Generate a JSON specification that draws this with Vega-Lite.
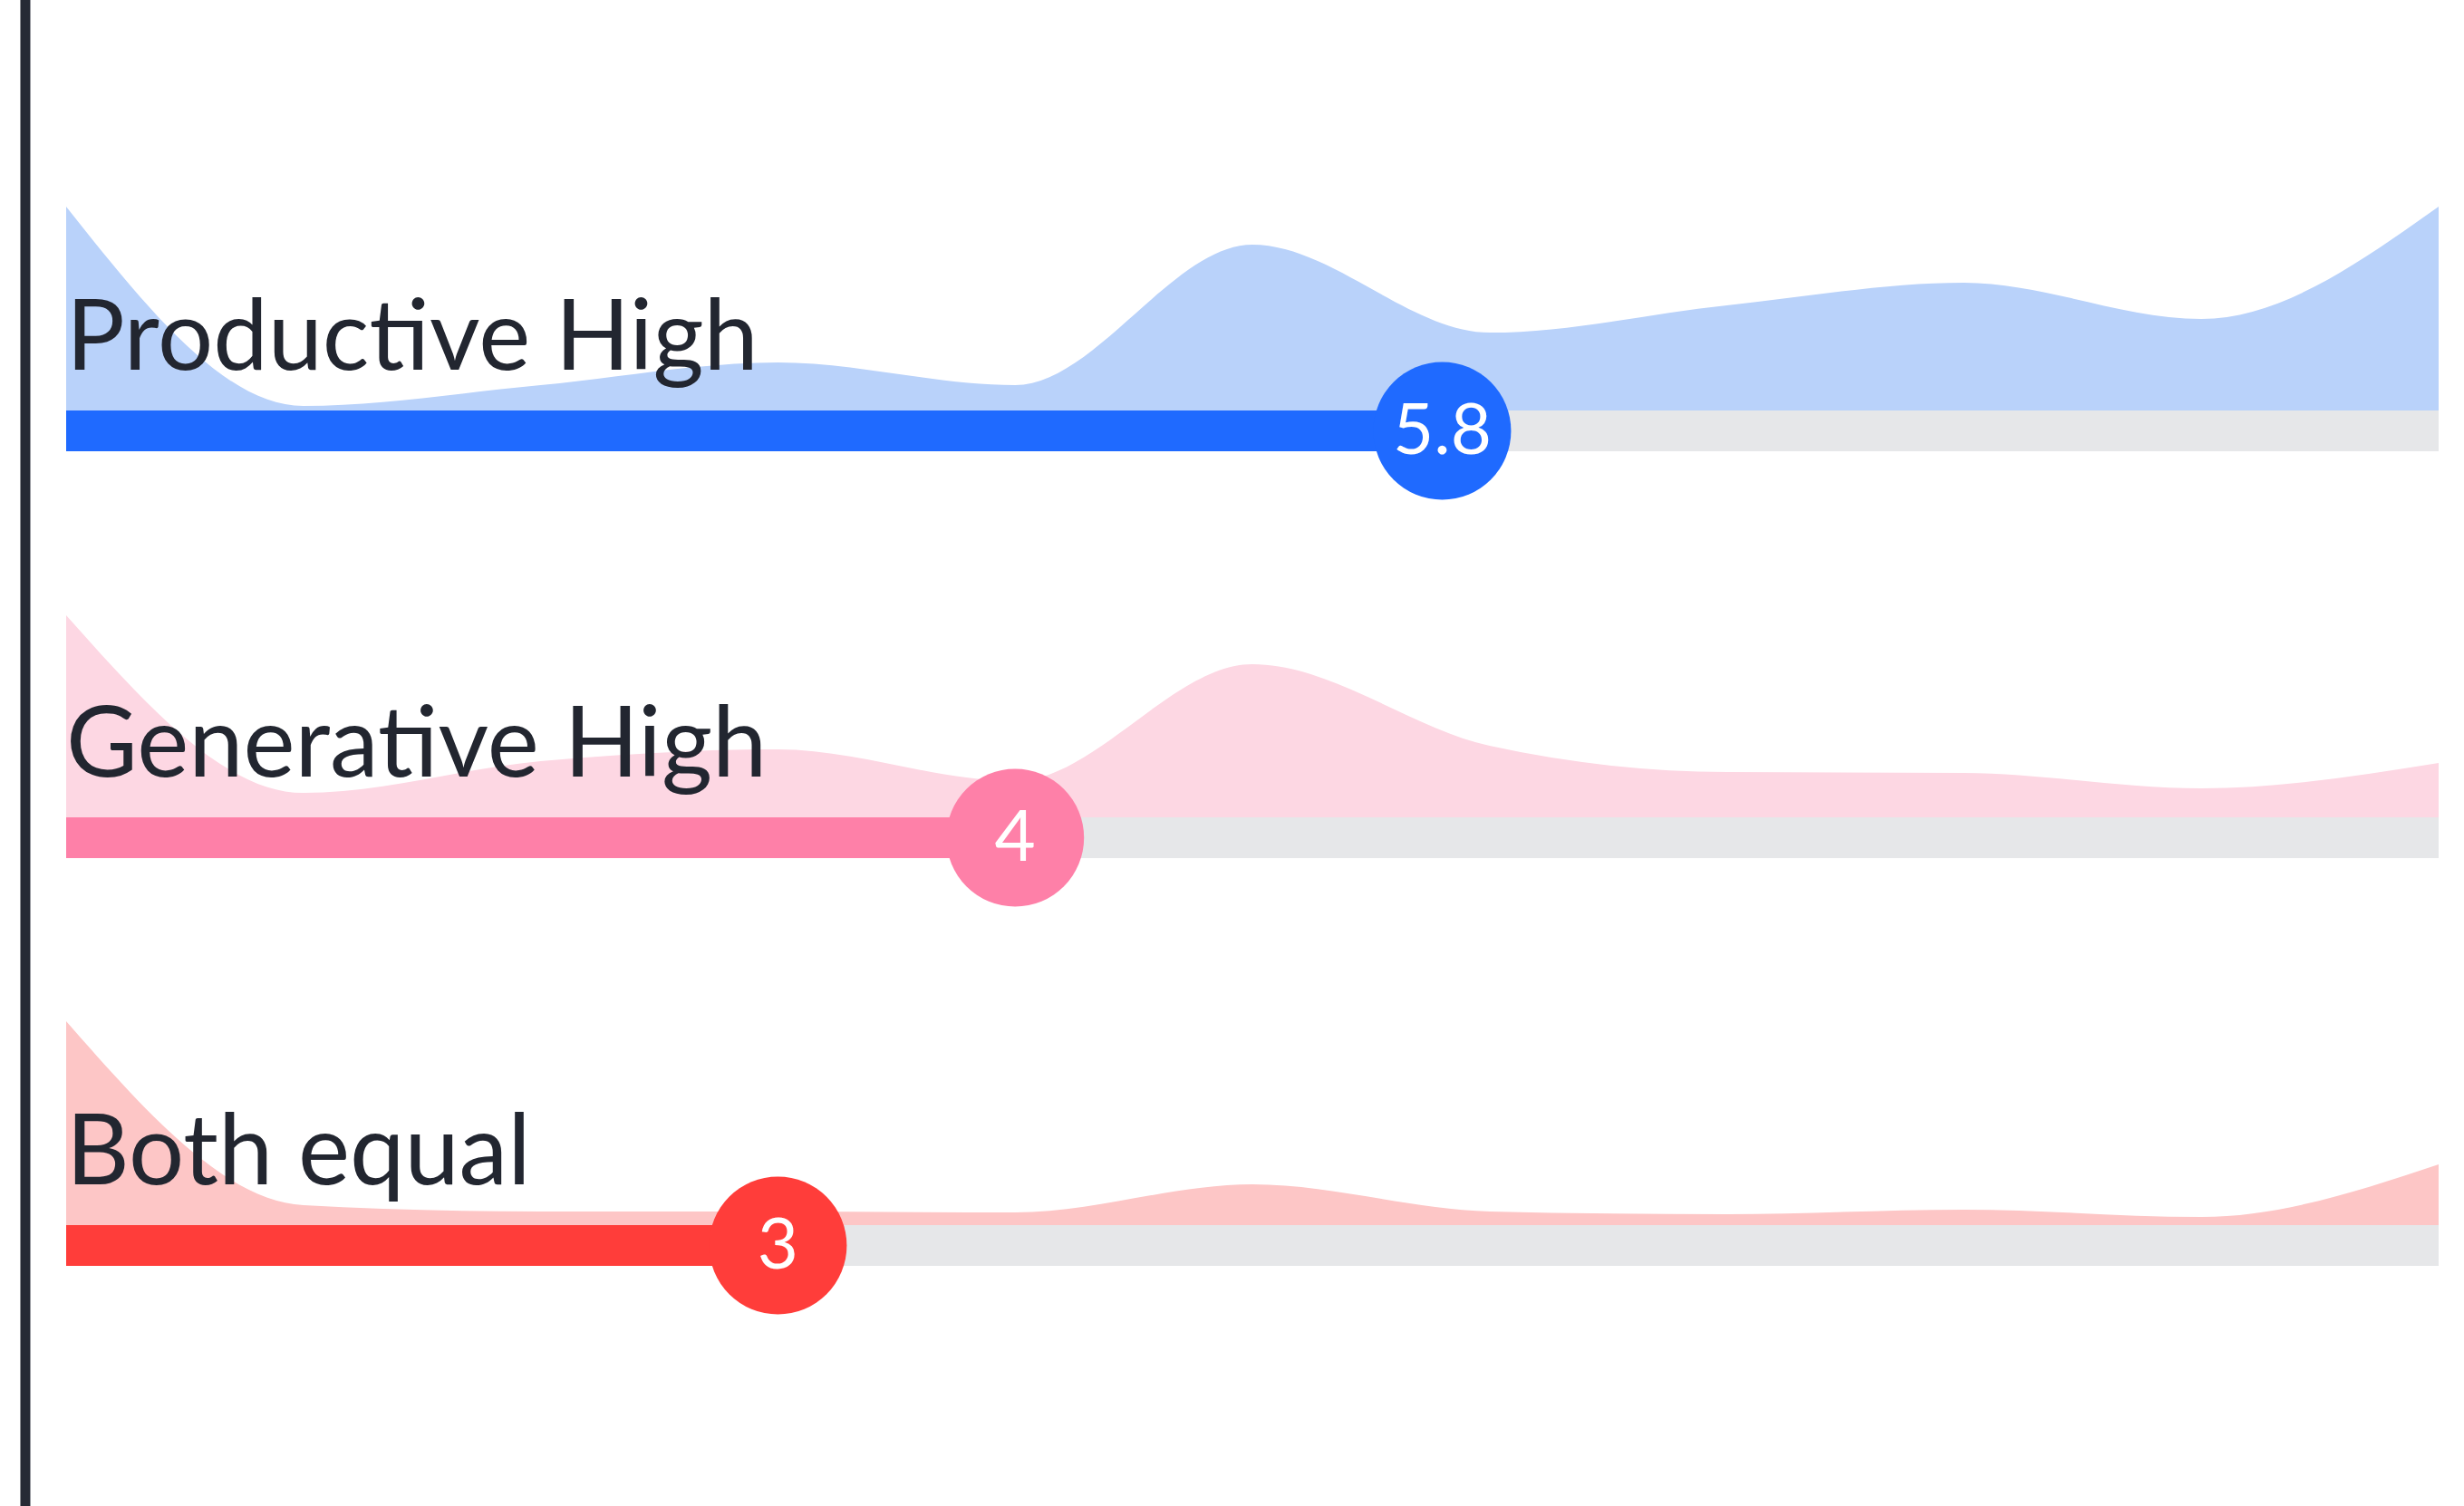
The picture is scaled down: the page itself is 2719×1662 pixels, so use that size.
{
  "$schema": "https://vega.github.io/schema/vega-lite/v6.json",
  "width": 2719,
  "height": 1662,
  "padding": 0,
  "autosize": {"type": "none"},
  "background": "#ffffff",
  "config": {"view": {"stroke": null}},
  "datasets": {
    "density": [
      {"group": "Productive High", "score": 0, "density": 1.0},
      {"group": "Productive High", "score": 1, "density": 0.022},
      {"group": "Productive High", "score": 2, "density": 0.124},
      {"group": "Productive High", "score": 3, "density": 0.236},
      {"group": "Productive High", "score": 4, "density": 0.124},
      {"group": "Productive High", "score": 5, "density": 0.813},
      {"group": "Productive High", "score": 6, "density": 0.382},
      {"group": "Productive High", "score": 7, "density": 0.516},
      {"group": "Productive High", "score": 8, "density": 0.627},
      {"group": "Productive High", "score": 9, "density": 0.449},
      {"group": "Productive High", "score": 10, "density": 1.0},
      {"group": "Generative High", "score": 0, "density": 0.991},
      {"group": "Generative High", "score": 1, "density": 0.12},
      {"group": "Generative High", "score": 2, "density": 0.276},
      {"group": "Generative High", "score": 3, "density": 0.333},
      {"group": "Generative High", "score": 4, "density": 0.178},
      {"group": "Generative High", "score": 5, "density": 0.751},
      {"group": "Generative High", "score": 6, "density": 0.351},
      {"group": "Generative High", "score": 7, "density": 0.222},
      {"group": "Generative High", "score": 8, "density": 0.218},
      {"group": "Generative High", "score": 9, "density": 0.142},
      {"group": "Generative High", "score": 10, "density": 0.267},
      {"group": "Both equal", "score": 0, "density": 1.0},
      {"group": "Both equal", "score": 1, "density": 0.098},
      {"group": "Both equal", "score": 2, "density": 0.067},
      {"group": "Both equal", "score": 3, "density": 0.067},
      {"group": "Both equal", "score": 4, "density": 0.062},
      {"group": "Both equal", "score": 5, "density": 0.2},
      {"group": "Both equal", "score": 6, "density": 0.067},
      {"group": "Both equal", "score": 7, "density": 0.053},
      {"group": "Both equal", "score": 8, "density": 0.076},
      {"group": "Both equal", "score": 9, "density": 0.04},
      {"group": "Both equal", "score": 10, "density": 0.298}
    ],
    "summary": [
      {"group": "Productive High", "mean": 5.8},
      {"group": "Generative High", "mean": 4},
      {"group": "Both equal", "mean": 3}
    ]
  },
  "layer": [
    {
      "data": {"name": "summary"},
      "transform": [{"filter": "datum.group === 'Productive High'"}],
      "mark": {"type": "rule", "color": "#262a35", "strokeWidth": 11},
      "encoding": {
        "x": {"datum": -0.172, "type": "quantitative", "scale": {"domain": [0, 10], "range": [73, 2691]}, "axis": null}
      }
    },
    {
      "data": {"name": "summary"},
      "transform": [{"filter": "datum.group === 'Productive High'"}],
      "layer": [
        {
          "data": {"name": "density"},
          "transform": [{"filter": "datum.group === 'Productive High'"}],
          "mark": {"type": "area", "interpolate": "monotone", "color": "#b9d2fa", "opacity": 1},
          "encoding": {
            "x": {"field": "score", "type": "quantitative", "axis": null},
            "y": {"field": "density", "type": "quantitative", "axis": null, "scale": {"domain": [0, 1], "range": [453, 228]}}
          }
        },
        {
          "mark": {"type": "rect", "color": "#e6e7e9"},
          "encoding": {
            "x": {"datum": 0, "type": "quantitative"}, "x2": {"datum": 10},
            "y": {"datum": 0, "type": "quantitative"}, "y2": {"datum": -0.2}
          }
        },
        {
          "mark": {"type": "rect", "color": "#1f6aff"},
          "encoding": {
            "x": {"field": "mean", "type": "quantitative"}, "x2": {"datum": 0},
            "y": {"datum": 0, "type": "quantitative"}, "y2": {"datum": -0.2}
          }
        },
        {
          "mark": {"type": "text", "align": "left", "baseline": "alphabetic", "font": "Lato", "fontSize": 108, "color": "#222630"},
          "encoding": {
            "x": {"datum": 0, "type": "quantitative"},
            "y": {"datum": 0.2, "type": "quantitative"},
            "text": {"field": "group", "type": "nominal"}
          }
        },
        {
          "mark": {"type": "point", "shape": "circle", "filled": true, "opacity": 1, "size": 23104, "color": "#1f6aff"},
          "encoding": {
            "x": {"field": "mean", "type": "quantitative"},
            "y": {"datum": -0.1, "type": "quantitative"}
          }
        },
        {
          "mark": {"type": "text", "align": "center", "baseline": "middle", "font": "Lato", "fontSize": 78, "color": "#ffffff", "dy": 2},
          "encoding": {
            "x": {"field": "mean", "type": "quantitative"},
            "y": {"datum": -0.1, "type": "quantitative"},
            "text": {"field": "mean", "type": "quantitative"}
          }
        }
      ]
    },
    {
      "data": {"name": "summary"},
      "transform": [{"filter": "datum.group === 'Generative High'"}],
      "layer": [
        {
          "data": {"name": "density"},
          "transform": [{"filter": "datum.group === 'Generative High'"}],
          "mark": {"type": "area", "interpolate": "monotone", "color": "#fdd7e3", "opacity": 1},
          "encoding": {
            "x": {"field": "score", "type": "quantitative", "axis": null},
            "y": {"field": "density", "type": "quantitative", "axis": null, "scale": {"domain": [0, 1], "range": [902, 677]}}
          }
        },
        {
          "mark": {"type": "rect", "color": "#e6e7e9"},
          "encoding": {
            "x": {"datum": 0, "type": "quantitative"}, "x2": {"datum": 10},
            "y": {"datum": 0, "type": "quantitative"}, "y2": {"datum": -0.2}
          }
        },
        {
          "mark": {"type": "rect", "color": "#fe80a8"},
          "encoding": {
            "x": {"field": "mean", "type": "quantitative"}, "x2": {"datum": 0},
            "y": {"datum": 0, "type": "quantitative"}, "y2": {"datum": -0.2}
          }
        },
        {
          "mark": {"type": "text", "align": "left", "baseline": "alphabetic", "font": "Lato", "fontSize": 108, "color": "#222630"},
          "encoding": {
            "x": {"datum": 0, "type": "quantitative"},
            "y": {"datum": 0.2, "type": "quantitative"},
            "text": {"field": "group", "type": "nominal"}
          }
        },
        {
          "mark": {"type": "point", "shape": "circle", "filled": true, "opacity": 1, "size": 23104, "color": "#fe80a8"},
          "encoding": {
            "x": {"field": "mean", "type": "quantitative"},
            "y": {"datum": -0.1, "type": "quantitative"}
          }
        },
        {
          "mark": {"type": "text", "align": "center", "baseline": "middle", "font": "Lato", "fontSize": 78, "color": "#ffffff", "dy": 2},
          "encoding": {
            "x": {"field": "mean", "type": "quantitative"},
            "y": {"datum": -0.1, "type": "quantitative"},
            "text": {"field": "mean", "type": "quantitative"}
          }
        }
      ]
    },
    {
      "data": {"name": "summary"},
      "transform": [{"filter": "datum.group === 'Both equal'"}],
      "layer": [
        {
          "data": {"name": "density"},
          "transform": [{"filter": "datum.group === 'Both equal'"}],
          "mark": {"type": "area", "interpolate": "monotone", "color": "#fdc6c6", "opacity": 1},
          "encoding": {
            "x": {"field": "score", "type": "quantitative", "axis": null},
            "y": {"field": "density", "type": "quantitative", "axis": null, "scale": {"domain": [0, 1], "range": [1352, 1127]}}
          }
        },
        {
          "mark": {"type": "rect", "color": "#e6e7e9"},
          "encoding": {
            "x": {"datum": 0, "type": "quantitative"}, "x2": {"datum": 10},
            "y": {"datum": 0, "type": "quantitative"}, "y2": {"datum": -0.2}
          }
        },
        {
          "mark": {"type": "rect", "color": "#ff3d3a"},
          "encoding": {
            "x": {"field": "mean", "type": "quantitative"}, "x2": {"datum": 0},
            "y": {"datum": 0, "type": "quantitative"}, "y2": {"datum": -0.2}
          }
        },
        {
          "mark": {"type": "text", "align": "left", "baseline": "alphabetic", "font": "Lato", "fontSize": 108, "color": "#222630"},
          "encoding": {
            "x": {"datum": 0, "type": "quantitative"},
            "y": {"datum": 0.2, "type": "quantitative"},
            "text": {"field": "group", "type": "nominal"}
          }
        },
        {
          "mark": {"type": "point", "shape": "circle", "filled": true, "opacity": 1, "size": 23104, "color": "#ff3d3a"},
          "encoding": {
            "x": {"field": "mean", "type": "quantitative"},
            "y": {"datum": -0.1, "type": "quantitative"}
          }
        },
        {
          "mark": {"type": "text", "align": "center", "baseline": "middle", "font": "Lato", "fontSize": 78, "color": "#ffffff", "dy": 2},
          "encoding": {
            "x": {"field": "mean", "type": "quantitative"},
            "y": {"datum": -0.1, "type": "quantitative"},
            "text": {"field": "mean", "type": "quantitative"}
          }
        }
      ]
    }
  ],
  "resolve": {"scale": {"y": "independent"}}
}
